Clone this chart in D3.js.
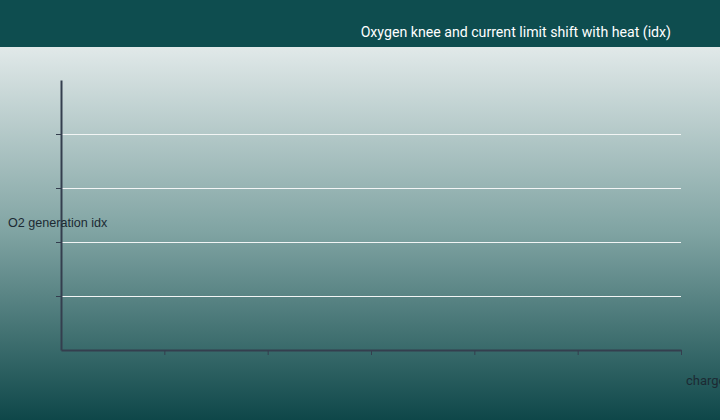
<!DOCTYPE html>
<html>
<head>
<meta charset="utf-8">
<title>Oxygen knee</title>
<script src="https://cdn.jsdelivr.net/npm/d3@7"></script>
<style>
	body { margin: 0; padding: 0; overflow: hidden; }
	svg { display: block; }
</style>
</head>
<body>
<div id="vis"></div>
<script type="text/javascript">
// chart data (series came out empty, only the frame is drawn)
var xTicks = [1, 2, 3, 4, 5, 6];
var yTicks = [1, 2, 3, 4];
var xDomain = [0, 6];
var yDomain = [0, 5];
var seriesValues = [];
var titleText = "Oxygen knee and current limit shift with heat (idx)";
var xLabel = "charge current (C)";
var yLabel = "O2 generation idx";

const W = 720, H = 420;
const COLOR_HEAD = "#0e4d4f";
const COLOR_AXIS = "#343e4e";
const COLOR_TEXT = "#1c2a33";

var margin = {top: 80, right: 39, bottom: 70, left: 61};
var plotW = W - margin.left - margin.right;
var plotH = H - margin.top - margin.bottom;

var svg = d3.select("#vis").append("svg")
	.attr("width", W).attr("height", H);

var grad = svg.append("defs").append("linearGradient")
	.attr("id", "bg").attr("x1", 0).attr("y1", 0).attr("x2", 0).attr("y2", 1);
grad.append("stop").attr("offset", "0%").attr("stop-color", "#e1e9e9");
grad.append("stop").attr("offset", "50%").attr("stop-color", "#7fa3a2");
grad.append("stop").attr("offset", "100%").attr("stop-color", "#0e4749");

svg.append("rect").attr("x", 0).attr("y", 47).attr("width", W).attr("height", H - 47)
	.attr("fill", "url(#bg)");
svg.append("rect").attr("x", 0).attr("y", 0).attr("width", W).attr("height", 47)
	.attr("fill", COLOR_HEAD);

svg.append("text")
	.attr("x", 671).attr("y", 37)
	.attr("text-anchor", "end")
	.attr("fill", "#ffffff")
	.style("font-family", "Roboto")
	.style("font-size", "14.15px")
	.text(titleText);

var x = d3.scaleLinear().domain(xDomain).range([0, plotW]);
var y = d3.scaleLinear().domain(yDomain).range([plotH, 0]);

var g = svg.append("g").attr("transform", "translate(" + margin.left + "," + margin.top + ")");

// gridlines
g.selectAll("line.grid").data(yTicks).enter().append("line")
	.attr("class", "grid")
	.attr("x1", 0).attr("x2", plotW)
	.attr("y1", function(d){ return Math.round(y(d)) + 0.5; })
	.attr("y2", function(d){ return Math.round(y(d)) + 0.5; })
	.attr("stroke", "#f2f5f5").attr("stroke-width", 1);

// no series to draw, kept for structure
var line = d3.line().x(function(d){ return x(d[0]); }).y(function(d){ return y(d[1]); });
g.selectAll("path.series").data(seriesValues).enter().append("path")
	.attr("class", "series").attr("d", line).attr("fill", "none");

var xAxis = g.append("g").attr("transform", "translate(0," + plotH + ")")
	.call(d3.axisBottom(x).tickValues(xTicks).tickFormat("").tickSize(5).tickSizeOuter(0));
var yAxis = g.append("g")
	.call(d3.axisLeft(y).tickValues(yTicks).tickFormat("").tickSize(5).tickSizeOuter(0));

[xAxis, yAxis].forEach(function(a){
	a.select(".domain").attr("stroke", COLOR_AXIS).attr("stroke-width", 2);
	a.selectAll(".tick line").attr("stroke", COLOR_AXIS).attr("stroke-width", 1);
});

svg.append("text")
	.attr("x", 8).attr("y", 227)
	.attr("fill", COLOR_TEXT)
	.style("font-family", "Liberation Sans")
	.style("font-size", "12.6px")
	.text(yLabel);

svg.append("text")
	.attr("x", 686).attr("y", 385)
	.attr("fill", COLOR_TEXT)
	.style("font-family", "Roboto")
	.style("font-size", "13px")
	.text(xLabel);
</script>
</body>
</html>
